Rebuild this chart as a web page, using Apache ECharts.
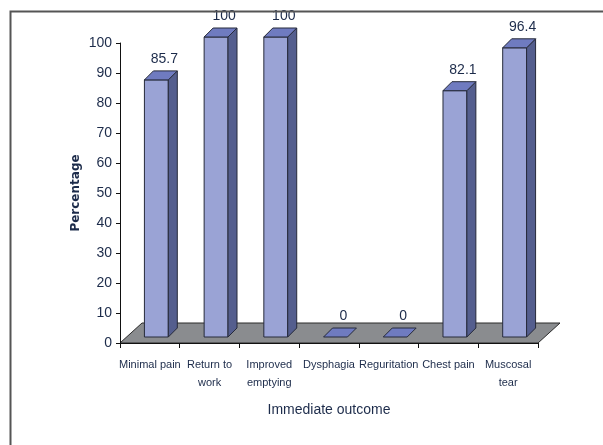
<!DOCTYPE html>
<html>
<head>
<meta charset="utf-8">
<script src="https://cdn.jsdelivr.net/npm/echarts@6/dist/echarts.min.js"></script>
<style>
  html, body { margin: 0; padding: 0; background: #fff; }
  #chart { width: 603px; height: 445px; }
</style>
</head>
<body>
<div id="chart"></div>
<script>
// Immediate outcome after the procedure, percentage of patients
const categories = ['Minimal pain', 'Return to\nwork', 'Improved\nemptying', 'Dysphagia', 'Reguritation', 'Chest pain', 'Muscosal\ntear'];
const percentages = [85.7, 100, 100, 0, 0, 82.1, 96.4];
const yTicks = { min: 0, max: 100, step: 10 };

const NARROW = "'Liberation Sans Narrow', 'Arial Narrow', 'Liberation Sans', Arial, sans-serif";
const TEXT = '#1c2b4a';

// pseudo-3D geometry (pixels)
const DEPTH = { dx: 22, dy: 20 };      // floor depth
const BAR_DEPTH = { dx: 9, dy: 9 };    // bar depth
const BAR_LIFT = 6, BAR_SHIFT = 6.5;   // bar placement inside the floor

function renderFloor(params, api) {
  const cs = params.coordSys;
  const yb = cs.y + cs.height;
  return {
    type: 'polygon',
    shape: { points: [
      [cs.x, yb], [cs.x + cs.width, yb],
      [cs.x + cs.width + DEPTH.dx, yb - DEPTH.dy], [cs.x + DEPTH.dx, yb - DEPTH.dy]
    ] },
    style: { fill: '#8a8c8f', stroke: '#2b2b2b', lineWidth: 1 }
  };
}

function renderBar(params, api) {
  const cat = api.value(0), v = api.value(1);
  const base = api.coord([cat, 0]);
  const top = api.coord([cat, v]);
  const w = api.size([1, 0])[0];
  const fw = w * 0.4;
  const x0 = base[0] - fw / 2 + BAR_SHIFT, x1 = x0 + fw;
  const yb = base[1] - BAR_LIFT, yt = top[1] - BAR_LIFT;
  const dx = BAR_DEPTH.dx, dy = BAR_DEPTH.dy;
  const edge = { stroke: '#262a3a', lineWidth: 1, lineJoin: 'round' };
  const children = [];
  if (yb - yt > 0.5) {
    children.push({ type: 'polygon', shape: { points: [[x0, yb], [x1, yb], [x1, yt], [x0, yt]] },
      style: Object.assign({ fill: '#9aa3d5' }, edge) });
    children.push({ type: 'polygon', shape: { points: [[x1, yb], [x1 + dx, yb - dy], [x1 + dx, yt - dy], [x1, yt]] },
      style: Object.assign({ fill: '#545e8e' }, edge) });
  }
  children.push({ type: 'polygon', shape: { points: [[x0, yt], [x1, yt], [x1 + dx, yt - dy], [x0 + dx, yt - dy]] },
    style: Object.assign({ fill: '#6f7bc0' }, edge) });
  children.push({ type: 'text', style: {
    x: x0 + fw / 2 + dx - 1, y: yt - dy - 12, text: String(v),
    align: 'center', verticalAlign: 'middle',
    font: '14px ' + NARROW, fill: TEXT } });
  return { type: 'group', children };
}

const chart = echarts.init(document.getElementById('chart'), null, { renderer: 'canvas' });
chart.setOption({
  animation: false,
  backgroundColor: '#ffffff',
  graphic: [{
    type: 'rect', left: 8, top: 9, shape: { width: 700, height: 600 },
    style: { fill: 'none', stroke: '#555555', lineWidth: 2 }, z: 100
  }],
  grid: { left: 120, right: 65, top: 43, bottom: 102 },
  xAxis: {
    type: 'category', data: categories, boundaryGap: true,
    name: 'Immediate outcome', nameLocation: 'middle', nameGap: 60,
    nameTextStyle: { fontFamily: NARROW, fontSize: 14, color: TEXT },
    axisLine: { show: true, lineStyle: { color: '#111', width: 1 } },
    axisTick: { show: true, length: 5, lineStyle: { color: '#111' } },
    axisLabel: { interval: 0, margin: 13, fontFamily: NARROW, fontSize: 11, lineHeight: 18, color: TEXT },
    splitLine: { show: false }, z: 10
  },
  yAxis: {
    type: 'value', min: yTicks.min, max: yTicks.max, interval: yTicks.step,
    name: 'Percentage', nameLocation: 'middle', nameGap: 38, nameRotate: 90,
    nameMoveOverlap: false,
    nameTextStyle: { fontFamily: "'DejaVu Sans', sans-serif", fontWeight: 'bold', fontSize: 12, color: TEXT },
    axisLine: { show: true, lineStyle: { color: '#111', width: 1 } },
    axisTick: { show: true, length: 4, lineStyle: { color: '#111' } },
    axisLabel: { margin: 8, fontFamily: NARROW, fontSize: 14, color: TEXT },
    splitLine: { show: false }, z: 10
  },
  series: [
    { type: 'custom', name: 'floor', renderItem: renderFloor, data: [[0, 0]], z: 1, silent: true },
    { type: 'custom', name: 'Percentage', renderItem: renderBar,
      data: categories.map((c, i) => [i, percentages[i]]),
      encode: { x: 0, y: 1 }, z: 2 }
  ]
});
</script>
</body>
</html>
